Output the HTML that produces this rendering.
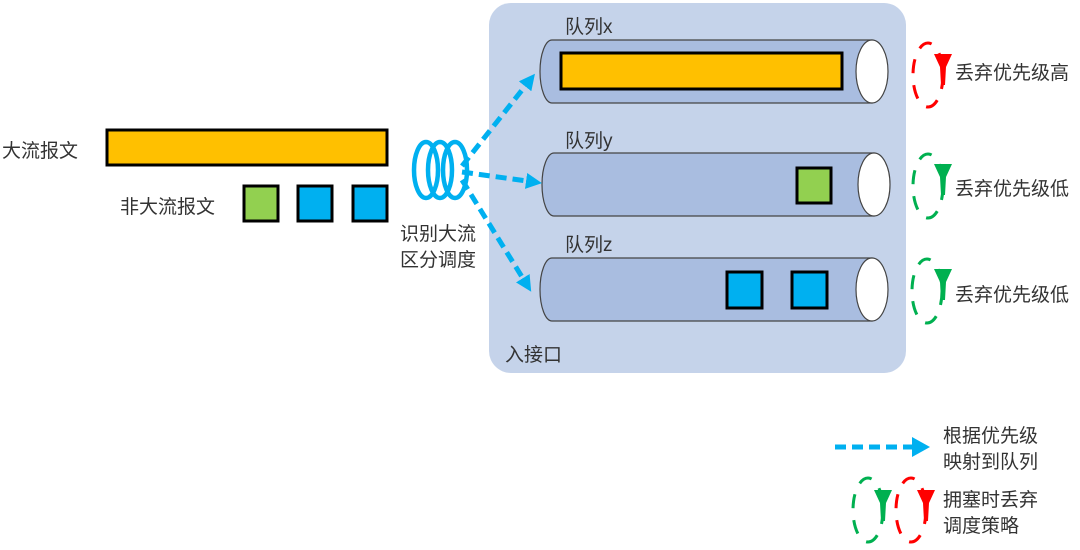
<!DOCTYPE html>
<html><head><meta charset="utf-8"><style>
html,body{margin:0;padding:0;background:#fff;width:1080px;height:550px;overflow:hidden}
text{font-family:"Liberation Sans","Noto Sans CJK SC",sans-serif;fill:#333;font-size:19px}
</style></head><body>
<svg width="1080" height="550" viewBox="0 0 1080 550" xmlns="http://www.w3.org/2000/svg">
<defs>
<marker id="ah" markerWidth="16" markerHeight="16" refX="8" refY="8" orient="auto" markerUnits="userSpaceOnUse" viewBox="0 0 16 16">
<path d="M0,0 L16,8 L0,16 Z" fill="#00b0f0"/></marker>
<g id="cyl">
<path d="M552,0 H872 V63 H552 A12,31.5 0 0 1 552,0 Z" fill="#a9bde0" stroke="#444" stroke-width="1.2"/>
<ellipse cx="872" cy="31.5" rx="16" ry="31.5" fill="#fff" stroke="#444" stroke-width="1.2"/>
</g>
<g id="drop"><path d="M0,0 L18,0 L12,13 L11,31 L7,31 L6,13 Z"/></g>
</defs>
<rect x="489" y="3" width="417" height="370" rx="22" fill="#c5d3ea"/>
<use href="#cyl" y="40"/>
<use href="#cyl" y="153" x="2"/>
<use href="#cyl" y="258"/>
<rect x="561" y="53" width="281" height="36" fill="#ffc000" stroke="#000" stroke-width="3"/>
<rect x="797" y="168" width="34" height="35" fill="#92d050" stroke="#000" stroke-width="3"/>
<rect x="727" y="272" width="35" height="36" fill="#00b0f0" stroke="#000" stroke-width="3"/>
<rect x="792" y="272" width="35" height="36" fill="#00b0f0" stroke="#000" stroke-width="3"/>
<text x="565" y="33">队列x</text>
<text x="565" y="147">队列y</text>
<text x="565" y="251">队列z</text>
<text x="505" y="361" font-size="17">入接口</text>

<text x="2" y="157" font-size="20">大流报文</text>
<rect x="107" y="130" width="280" height="35" fill="#ffc000" stroke="#000" stroke-width="3"/>
<text x="120" y="213" font-size="20">非大流报文</text>
<rect x="244" y="186" width="34" height="35" fill="#92d050" stroke="#000" stroke-width="3"/>
<rect x="298" y="186" width="34" height="35" fill="#00b0f0" stroke="#000" stroke-width="3"/>
<rect x="353" y="186" width="34" height="35" fill="#00b0f0" stroke="#000" stroke-width="3"/>

<g fill="none" stroke="#00b0f0" stroke-width="4.5">
<ellipse cx="426" cy="170" rx="12" ry="28"/>
<ellipse cx="440" cy="170" rx="12" ry="28"/>
<ellipse cx="455" cy="170" rx="12" ry="28"/>
</g>
<g stroke="#00b0f0" stroke-width="5" stroke-dasharray="11,6" fill="none">
<line x1="462" y1="166" x2="530" y2="80" marker-end="url(#ah)"/>
<line x1="462" y1="172" x2="534" y2="182" marker-end="url(#ah)"/>
<line x1="462" y1="180" x2="527" y2="285" marker-end="url(#ah)"/>
</g>
<text x="400" y="240">识别大流</text>
<text x="400" y="266">区分调度</text>

<g stroke-width="3" fill="none" stroke-dasharray="14,12">
<ellipse cx="928" cy="75" rx="15" ry="32" stroke="#ff0000"/>
<ellipse cx="928" cy="186" rx="15" ry="32" stroke="#00b050"/>
<ellipse cx="927" cy="291" rx="15" ry="32" stroke="#00b050"/>
</g>
<use href="#drop" x="934" y="54" fill="#ff0000"/>
<use href="#drop" x="934" y="164" fill="#00b050"/>
<use href="#drop" x="934" y="269" fill="#00b050"/>
<text x="955" y="79" font-size="20">丢弃优先级高</text>
<text x="955" y="195" font-size="20">丢弃优先级低</text>
<text x="955" y="301" font-size="20">丢弃优先级低</text>

<line x1="835" y1="447" x2="915" y2="447" stroke="#00b0f0" stroke-width="5" stroke-dasharray="11,6"/>
<path d="M912,437 L930,447 L912,457 Z" fill="#00b0f0"/>
<text x="943" y="442" font-size="20">根据优先级</text>
<text x="943" y="468" font-size="20">映射到队列</text>
<g stroke-width="3" fill="none" stroke-dasharray="14,12">
<ellipse cx="868" cy="510" rx="15" ry="32" stroke="#00b050"/>
<ellipse cx="911" cy="510" rx="15" ry="32" stroke="#ff0000"/>
</g>
<use href="#drop" x="874" y="490" fill="#00b050"/>
<use href="#drop" x="917" y="490" fill="#ff0000"/>
<text x="943" y="506" font-size="20">拥塞时丢弃</text>
<text x="943" y="532" font-size="20">调度策略</text>
</svg>
</body></html>
